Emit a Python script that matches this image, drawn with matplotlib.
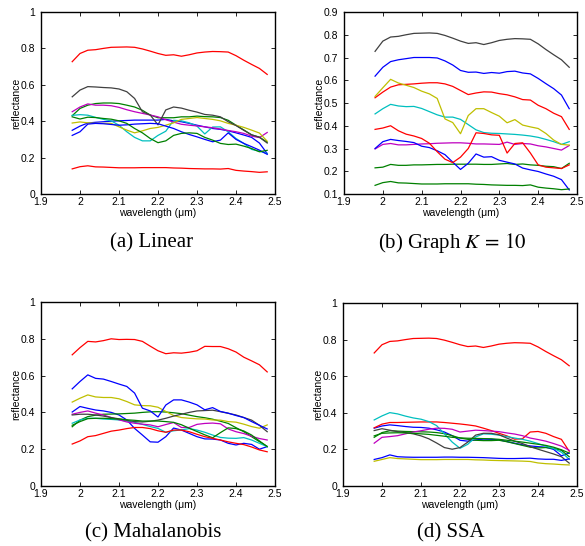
import matplotlib
matplotlib.use("Agg")
import matplotlib.pyplot as plt

plt.rcParams['font.family'] = ['Liberation Sans', 'DejaVu Sans']
plt.rcParams['mathtext.fontset'] = 'stix'

# MATLAB default line colours
mb = (0, 0, 1)
mg = (0, 0.5, 0)
mr = (1, 0, 0)
mc = (0, 0.75, 0.75)
mm = (0.75, 0, 0.75)
my = (0.75, 0.75, 0)
mk = (0.25, 0.25, 0.25)

wl = [1.98, 2.00, 2.02, 2.04, 2.06, 2.08, 2.10, 2.12, 2.14, 2.16, 2.18, 2.20, 2.22,
      2.24, 2.26, 2.28, 2.30, 2.32, 2.34, 2.36, 2.38, 2.40, 2.42, 2.44, 2.46, 2.48]

x_ticks = [1.9, 2.0, 2.1, 2.2, 2.3, 2.4, 2.5]
x_ticklabels = ["1.9", "2", "2.1", "2.2", "2.3", "2.4", "2.5"]
y_ticks = [0, 0.2, 0.4, 0.6, 0.8, 1.0]
y_ticklabels = ["0", "0.2", "0.4", "0.6", "0.8", "1"]
y_ticks_b = [0.1, 0.2, 0.3, 0.4, 0.5, 0.6, 0.7, 0.8, 0.9]
y_ticklabels_b = ["0.1", "0.2", "0.3", "0.4", "0.5", "0.6", "0.7", "0.8", "0.9"]

captions = ["(a) Linear", "(b) Graph $K\\,=\\,10$", "(c) Mahalanobis", "(d) SSA"]

# spectra shared by several panels
top_spec = [0.727, 0.772, 0.790, 0.793, 0.800, 0.806, 0.807, 0.808, 0.806, 0.797, 0.785, 0.772, 0.762,
            0.765, 0.757, 0.765, 0.775, 0.780, 0.783, 0.782, 0.780, 0.760, 0.735, 0.712, 0.690, 0.657]
low_spec = [0.138, 0.150, 0.155, 0.149, 0.148, 0.146, 0.144, 0.144, 0.144, 0.145, 0.145, 0.145, 0.145,
            0.143, 0.142, 0.140, 0.139, 0.138, 0.138, 0.137, 0.140, 0.130, 0.126, 0.123, 0.119, 0.122]

# (a) Linear
lin_blue1 = [0.350, 0.373, 0.390, 0.394, 0.397, 0.400, 0.402, 0.404, 0.406, 0.406, 0.406, 0.406, 0.410,
             0.402, 0.397, 0.388, 0.378, 0.369, 0.360, 0.355, 0.347, 0.336, 0.324, 0.311, 0.280, 0.222]
lin_green1 = [0.430, 0.470, 0.488, 0.497, 0.500, 0.500, 0.497, 0.488, 0.478, 0.460, 0.434, 0.419, 0.419,
              0.419, 0.424, 0.424, 0.428, 0.425, 0.424, 0.420, 0.405, 0.378, 0.352, 0.325, 0.312, 0.285]
lin_cyan = [0.432, 0.436, 0.433, 0.421, 0.410, 0.402, 0.378, 0.342, 0.311, 0.292, 0.292, 0.322, 0.345,
            0.405, 0.402, 0.391, 0.373, 0.330, 0.368, 0.369, 0.342, 0.305, 0.278, 0.245, 0.235, 0.223]
lin_magenta = [0.452, 0.478, 0.495, 0.488, 0.488, 0.485, 0.476, 0.463, 0.452, 0.443, 0.434, 0.424, 0.408,
               0.395, 0.383, 0.378, 0.374, 0.369, 0.364, 0.357, 0.349, 0.342, 0.333, 0.318, 0.310, 0.338]
lin_yellow = [0.390, 0.396, 0.391, 0.388, 0.388, 0.388, 0.369, 0.351, 0.336, 0.347, 0.360, 0.366, 0.378,
              0.391, 0.410, 0.415, 0.420, 0.415, 0.410, 0.402, 0.388, 0.378, 0.366, 0.351, 0.335, 0.290]
lin_black = [0.534, 0.571, 0.590, 0.588, 0.585, 0.583, 0.577, 0.562, 0.525, 0.452, 0.434, 0.380, 0.462,
             0.478, 0.472, 0.460, 0.450, 0.437, 0.433, 0.424, 0.397, 0.376, 0.350, 0.325, 0.312, 0.280]
lin_blue2 = [0.322, 0.342, 0.384, 0.388, 0.386, 0.382, 0.378, 0.380, 0.384, 0.386, 0.388, 0.386, 0.373,
             0.360, 0.342, 0.327, 0.314, 0.300, 0.287, 0.296, 0.336, 0.300, 0.278, 0.260, 0.241, 0.218]
lin_green2 = [0.424, 0.412, 0.422, 0.420, 0.415, 0.411, 0.402, 0.388, 0.360, 0.336, 0.305, 0.282, 0.292,
              0.322, 0.333, 0.336, 0.333, 0.311, 0.296, 0.278, 0.272, 0.274, 0.263, 0.250, 0.232, 0.240]

# (b) Graph K = 10
gr_blue1 = [0.618, 0.657, 0.682, 0.690, 0.695, 0.700, 0.700, 0.700, 0.698, 0.685, 0.667, 0.643, 0.635,
            0.636, 0.630, 0.634, 0.631, 0.638, 0.640, 0.632, 0.628, 0.608, 0.585, 0.563, 0.535, 0.475]
gr_green1 = [0.215, 0.218, 0.230, 0.226, 0.226, 0.228, 0.228, 0.229, 0.230, 0.230, 0.231, 0.231, 0.231,
             0.231, 0.230, 0.230, 0.232, 0.234, 0.230, 0.232, 0.228, 0.226, 0.222, 0.220, 0.212, 0.235]
gr_red1 = [0.523, 0.548, 0.570, 0.580, 0.582, 0.584, 0.587, 0.589, 0.589, 0.584, 0.573, 0.555, 0.537,
           0.544, 0.549, 0.548, 0.541, 0.536, 0.527, 0.515, 0.513, 0.490, 0.475, 0.455, 0.440, 0.384]
gr_cyan = [0.452, 0.475, 0.494, 0.487, 0.484, 0.485, 0.476, 0.462, 0.448, 0.438, 0.438, 0.428, 0.405,
           0.382, 0.370, 0.367, 0.366, 0.364, 0.362, 0.359, 0.355, 0.349, 0.340, 0.330, 0.318, 0.330]
gr_magenta = [0.298, 0.318, 0.322, 0.316, 0.316, 0.318, 0.320, 0.321, 0.323, 0.324, 0.325, 0.325, 0.323,
              0.320, 0.320, 0.319, 0.318, 0.328, 0.318, 0.322, 0.320, 0.312, 0.307, 0.300, 0.293, 0.313]
gr_yellow = [0.529, 0.567, 0.604, 0.588, 0.578, 0.568, 0.552, 0.540, 0.520, 0.430, 0.414, 0.365, 0.445,
             0.475, 0.475, 0.458, 0.442, 0.413, 0.427, 0.403, 0.395, 0.388, 0.366, 0.337, 0.318, 0.315]
gr_blue2 = [0.300, 0.330, 0.340, 0.335, 0.331, 0.326, 0.310, 0.304, 0.290, 0.273, 0.240, 0.208, 0.235,
            0.276, 0.262, 0.264, 0.248, 0.240, 0.232, 0.214, 0.206, 0.199, 0.188, 0.178, 0.163, 0.118]
gr_red2 = [0.384, 0.390, 0.400, 0.378, 0.363, 0.355, 0.344, 0.323, 0.286, 0.253, 0.238, 0.262, 0.300,
           0.369, 0.366, 0.360, 0.358, 0.280, 0.322, 0.325, 0.280, 0.228, 0.218, 0.215, 0.212, 0.228]

# (c) Mahalanobis
mah_blue1 = [0.402, 0.432, 0.422, 0.413, 0.408, 0.400, 0.386, 0.359, 0.313, 0.277, 0.240, 0.238, 0.268,
             0.315, 0.304, 0.286, 0.268, 0.256, 0.255, 0.250, 0.232, 0.223, 0.232, 0.226, 0.200, 0.214]
mah_green1 = [0.322, 0.358, 0.377, 0.385, 0.390, 0.391, 0.392, 0.394, 0.396, 0.400, 0.403, 0.404, 0.402,
              0.398, 0.393, 0.385, 0.377, 0.371, 0.363, 0.352, 0.340, 0.317, 0.295, 0.268, 0.241, 0.215]
mah_red1 = [0.713, 0.752, 0.786, 0.783, 0.790, 0.800, 0.796, 0.797, 0.796, 0.786, 0.760, 0.735, 0.719,
            0.724, 0.722, 0.727, 0.735, 0.759, 0.758, 0.758, 0.746, 0.728, 0.700, 0.680, 0.659, 0.620]
mah_cyan = [0.341, 0.359, 0.368, 0.368, 0.364, 0.362, 0.359, 0.353, 0.346, 0.335, 0.323, 0.313, 0.292,
            0.300, 0.305, 0.312, 0.304, 0.292, 0.277, 0.264, 0.260, 0.259, 0.263, 0.250, 0.232, 0.214]
mah_magenta = [0.390, 0.400, 0.408, 0.396, 0.386, 0.372, 0.360, 0.348, 0.341, 0.336, 0.332, 0.322, 0.334,
               0.345, 0.318, 0.318, 0.335, 0.340, 0.342, 0.338, 0.310, 0.295, 0.285, 0.270, 0.258, 0.250]
mah_yellow = [0.456, 0.477, 0.495, 0.484, 0.481, 0.481, 0.474, 0.459, 0.441, 0.437, 0.436, 0.428, 0.405,
              0.383, 0.372, 0.368, 0.365, 0.364, 0.359, 0.358, 0.350, 0.347, 0.336, 0.323, 0.314, 0.332]
mah_black = [0.386, 0.390, 0.390, 0.386, 0.380, 0.372, 0.365, 0.357, 0.350, 0.348, 0.352, 0.358, 0.368,
             0.380, 0.390, 0.400, 0.408, 0.410, 0.412, 0.404, 0.395, 0.386, 0.372, 0.358, 0.330, 0.295]
mah_blue2 = [0.528, 0.568, 0.604, 0.585, 0.581, 0.568, 0.554, 0.541, 0.505, 0.423, 0.408, 0.375, 0.440,
             0.468, 0.468, 0.456, 0.441, 0.414, 0.426, 0.405, 0.396, 0.383, 0.372, 0.350, 0.330, 0.310]
mah_green2 = [0.330, 0.350, 0.366, 0.368, 0.368, 0.366, 0.364, 0.360, 0.357, 0.353, 0.353, 0.353, 0.350,
              0.346, 0.333, 0.314, 0.296, 0.278, 0.262, 0.290, 0.316, 0.312, 0.299, 0.277, 0.245, 0.214]
mah_red2 = [0.228, 0.245, 0.268, 0.274, 0.286, 0.298, 0.304, 0.312, 0.318, 0.318, 0.312, 0.300, 0.292,
            0.304, 0.304, 0.295, 0.281, 0.268, 0.259, 0.250, 0.240, 0.232, 0.225, 0.212, 0.196, 0.186]

# (d) SSA
ssa_blue1 = [0.316, 0.328, 0.334, 0.330, 0.325, 0.321, 0.320, 0.316, 0.307, 0.295, 0.275, 0.250, 0.245,
             0.252, 0.256, 0.255, 0.252, 0.243, 0.234, 0.225, 0.219, 0.215, 0.212, 0.200, 0.165, 0.180]
ssa_green1 = [0.266, 0.292, 0.302, 0.300, 0.298, 0.297, 0.296, 0.295, 0.292, 0.286, 0.275, 0.262, 0.255,
              0.250, 0.248, 0.248, 0.250, 0.242, 0.232, 0.222, 0.212, 0.208, 0.210, 0.205, 0.195, 0.160]
ssa_red1 = [0.318, 0.338, 0.347, 0.347, 0.348, 0.349, 0.350, 0.350, 0.350, 0.347, 0.343, 0.339, 0.334,
            0.328, 0.316, 0.303, 0.288, 0.274, 0.256, 0.258, 0.295, 0.298, 0.288, 0.270, 0.255, 0.190]
ssa_cyan = [0.361, 0.383, 0.401, 0.394, 0.382, 0.372, 0.365, 0.352, 0.330, 0.285, 0.240, 0.206, 0.228,
            0.268, 0.285, 0.283, 0.278, 0.270, 0.262, 0.255, 0.245, 0.232, 0.218, 0.205, 0.185, 0.146]
ssa_magenta = [0.234, 0.266, 0.270, 0.275, 0.285, 0.295, 0.302, 0.310, 0.316, 0.315, 0.310, 0.295, 0.300,
               0.305, 0.303, 0.300, 0.297, 0.290, 0.284, 0.275, 0.262, 0.254, 0.245, 0.232, 0.218, 0.195]
ssa_yellow = [0.135, 0.145, 0.155, 0.150, 0.148, 0.146, 0.144, 0.144, 0.144, 0.145, 0.145, 0.145, 0.145,
              0.143, 0.142, 0.140, 0.139, 0.138, 0.137, 0.136, 0.134, 0.126, 0.122, 0.120, 0.117, 0.115]
ssa_black = [0.303, 0.313, 0.305, 0.297, 0.292, 0.285, 0.274, 0.258, 0.235, 0.210, 0.201, 0.210, 0.240,
             0.278, 0.288, 0.288, 0.280, 0.262, 0.245, 0.232, 0.215, 0.201, 0.188, 0.175, 0.160, 0.125]
ssa_blue2 = [0.145, 0.155, 0.170, 0.160, 0.158, 0.157, 0.157, 0.157, 0.157, 0.158, 0.158, 0.157, 0.157,
             0.156, 0.155, 0.153, 0.151, 0.150, 0.150, 0.151, 0.152, 0.148, 0.146, 0.146, 0.140, 0.148]
ssa_green2 = [0.274, 0.288, 0.290, 0.291, 0.290, 0.288, 0.285, 0.282, 0.277, 0.272, 0.266, 0.263, 0.261,
              0.260, 0.259, 0.258, 0.255, 0.250, 0.245, 0.240, 0.234, 0.228, 0.222, 0.212, 0.198, 0.180]

panels = [
    [(lin_blue1, mb), (lin_green1, mg), (top_spec, mr), (lin_cyan, mc), (lin_magenta, mm),
     (lin_yellow, my), (lin_black, mk), (lin_blue2, mb), (lin_green2, mg), (low_spec, mr)],
    [(gr_blue1, mb), (gr_green1, mg), (gr_red1, mr), (gr_cyan, mc), (gr_magenta, mm),
     (gr_yellow, my), (top_spec, mk), (gr_blue2, mb), (low_spec, mg), (gr_red2, mr)],
    [(mah_blue1, mb), (mah_green1, mg), (mah_red1, mr), (mah_cyan, mc), (mah_magenta, mm),
     (mah_yellow, my), (mah_black, mk), (mah_blue2, mb), (mah_green2, mg), (mah_red2, mr)],
    [(ssa_blue1, mb), (ssa_green1, mg), (ssa_red1, mr), (ssa_cyan, mc), (ssa_magenta, mm),
     (ssa_yellow, my), (ssa_black, mk), (ssa_blue2, mb), (ssa_green2, mg), (top_spec, mr)],
]

W, H = 585, 546
fig = plt.figure(figsize=(W / 100, H / 100), dpi=100)

# axes boxes in pixels: left, top, right, bottom
boxes = [(41, 12, 275, 194), (344, 12, 577, 194), (41, 302, 275, 486), (343, 303, 577, 486)]
cap_pos = [(152, 243), (452, 243), (153, 533), (451, 533)]

for i, (l, t, r, b) in enumerate(boxes):
    ax = fig.add_axes([l / W, 1 - b / H, (r - l) / W, (b - t) / H])
    for vals, col in panels[i]:
        ax.plot(wl, vals, color=col, linewidth=0.9)
    ax.set_xlim(1.9, 2.5)
    ax.set_xticks(x_ticks)
    ax.set_xticklabels(x_ticklabels)
    if i == 1:
        ax.set_ylim(0.1, 0.9)
        ax.set_yticks(y_ticks_b)
        ax.set_yticklabels(y_ticklabels_b)
    else:
        ax.set_ylim(0, 1)
        ax.set_yticks(y_ticks)
        ax.set_yticklabels(y_ticklabels)
    ax.tick_params(direction='in', length=3, width=0.6, labelsize=7.5,
                   top=True, right=True, colors='black')
    ax.tick_params(axis='x', pad=2)
    ax.tick_params(axis='y', pad=4)
    for s in ax.spines.values():
        s.set_linewidth(1.0)
    ax.set_xlabel("wavelength (μm)", fontsize=7.5, labelpad=1)
    ax.set_ylabel("reflectance", fontsize=7.5, labelpad=0)
    cx, cy = cap_pos[i]
    fig.text(cx / W, 1 - cy / H, captions[i], ha='center', va='center',
             fontsize=15, family='Liberation Serif')

fig.savefig("out.png", dpi=100)
